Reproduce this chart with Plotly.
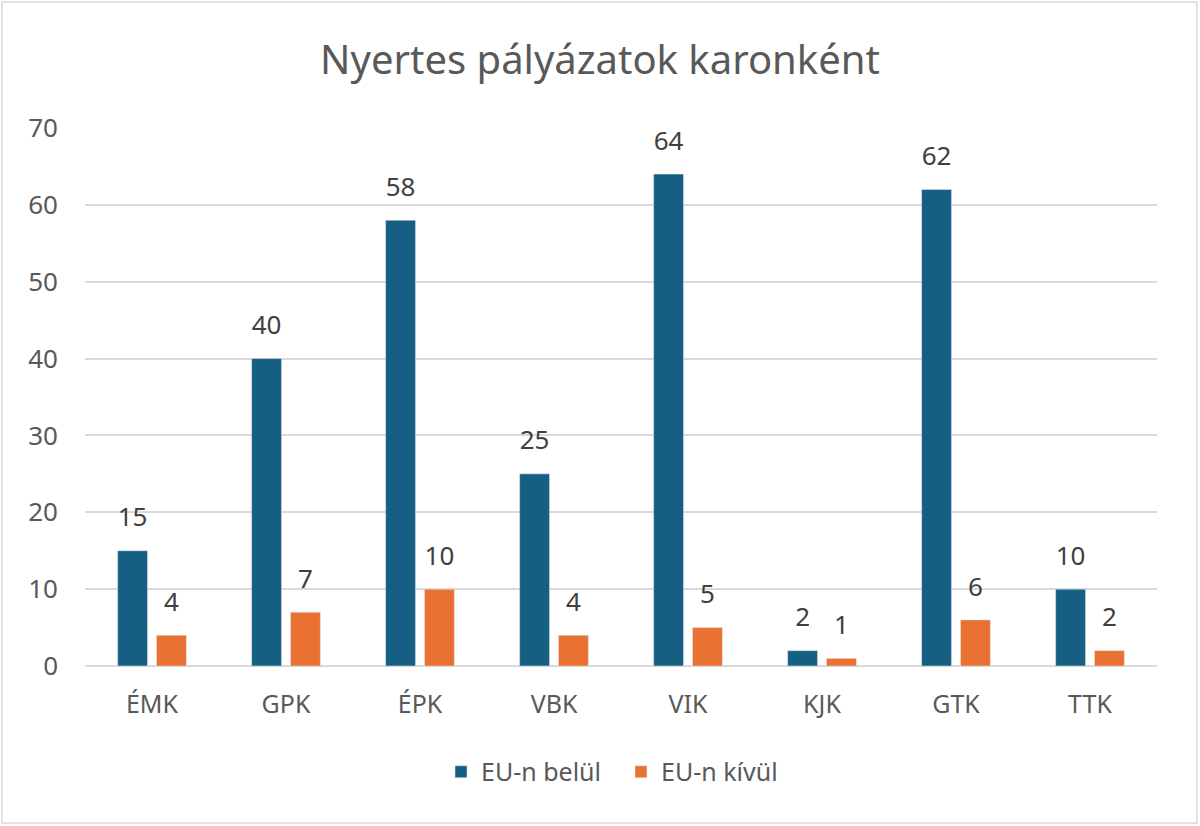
import plotly.graph_objects as go

karok = ["ÉMK", "GPK", "ÉPK", "VBK", "VIK", "KJK", "GTK", "TTK"]
eu_belul = [15, 40, 58, 25, 64, 2, 62, 10]
eu_kivul = [4, 7, 10, 4, 5, 1, 6, 2]

kek = "#156082"
narancs = "#e97132"
font = "Noto Sans"

fig = go.Figure()
fig.add_trace(go.Bar(x=karok, y=eu_belul, name="EU-n belül", marker_color=kek,
                     offsetgroup="a"))
fig.add_trace(go.Bar(x=karok, y=eu_kivul, name="EU-n kívül", marker_color=narancs,
                     offsetgroup="b"))

# data labels: transparent markers push the text up a bit above the bars
for vals, g in [(eu_belul, "a"), (eu_kivul, "b")]:
    fig.add_trace(go.Scatter(x=karok, y=vals, mode="markers+text", text=[str(v) for v in vals],
                             textposition="top center", offsetgroup=g, showlegend=False,
                             marker=dict(size=27, color="rgba(0,0,0,0)"),
                             textfont=dict(size=26, color="#404040", family=font),
                             hoverinfo="skip", cliponaxis=False))

fig.update_layout(
    width=1200, height=826,
    barmode="group", bargap=0.42, bargroupgap=0.23,
    scattermode="group", scattergap=0.42,
    paper_bgcolor="white", plot_bgcolor="white",
    font=dict(family=font, color="#595959"),
    title=dict(text="Nyertes pályázatok karonként", x=0.5, xanchor="center",
               y=0.927, yanchor="middle", font=dict(size=40, color="#595959")),
    margin=dict(l=85, r=43, t=128, b=160),
    xaxis=dict(tickfont=dict(size=25), showline=False, ticks="", ticklen=0,
               ticklabelstandoff=21),
    yaxis=dict(range=[0, 70], dtick=10, tickfont=dict(size=26), gridcolor="#d9d9d9",
               gridwidth=1.5, zeroline=True, zerolinecolor="#d9d9d9", zerolinewidth=1.5,
               ticklabelstandoff=26),
    legend=dict(orientation="h", x=0.5, xanchor="center", y=-0.197, yanchor="middle",
                font=dict(size=25), itemwidth=30, entrywidth=135, entrywidthmode="pixels"),
    shapes=[dict(type="rect", xref="paper", yref="paper", x0=-0.0774, x1=1.0373,
                 y0=-0.292, y1=1.234, line=dict(color="#d9d9d9", width=1.5))],
)

fig.write_html("out.html", config={"displayModeBar": False},
               post_script="document.body.style.margin='0px';")
